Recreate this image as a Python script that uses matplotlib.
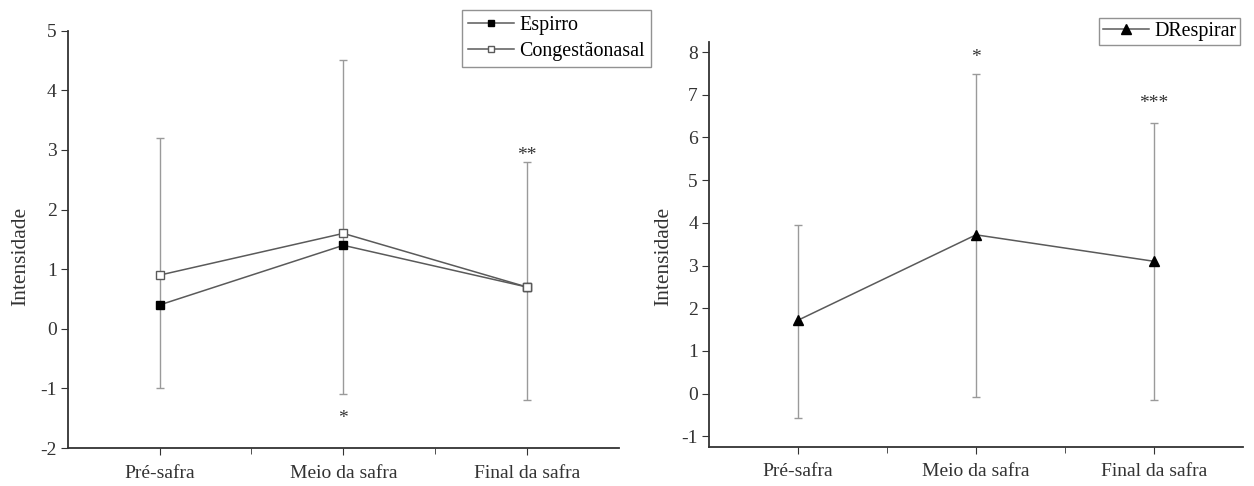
import matplotlib
matplotlib.use("Agg")
import matplotlib.pyplot as plt
import numpy as np

plt.rcParams['font.family'] = ['Liberation Serif', 'DejaVu Serif']
plt.rcParams['axes.unicode_minus'] = False

categories = ["Pré-safra", "Meio da safra", "Final da safra"]

# Left panel
espirro = [0.4, 1.4, 0.7]
congestao = [0.9, 1.6, 0.7]
left_err_low = [-1.0, -1.1, -1.2]
left_err_high = [3.2, 4.5, 2.8]
left_marks = ["", "*", "**"]
left_mark_y = [None, -1.5, 2.9]

# Right panel
drespirar = [1.72, 3.72, 3.1]
right_err_low = [-0.57, -0.08, -0.15]
right_err_high = [3.95, 7.48, 6.35]
right_marks = ["", "*", "***"]
right_mark_y = [None, 7.87, 6.8]

line_c = "#5a5a5a"
err_c = "#9a9a9a"
axis_c = "#333333"
text_c = "#333333"

fig = plt.figure(figsize=(12.54, 4.86), dpi=100)
ax1 = fig.add_axes([0.054, 0.078, 0.4396, 0.859])
ax2 = fig.add_axes([0.5654, 0.081, 0.4258, 0.833])

x = np.arange(1, 4)

def style(ax, label_x, label_y):
    for s in ["top", "right"]:
        ax.spines[s].set_visible(False)
    for s in ["left", "bottom"]:
        ax.spines[s].set_color(axis_c)
        ax.spines[s].set_linewidth(1.3)
    ax.set_xlim(0.5, 3.5)
    ax.set_xticks(x)
    ax.set_xticklabels(categories)
    ax.set_xticks([1.5, 2.5], minor=True)
    ax.tick_params(axis="both", which="major", direction="out", length=5,
                   colors=axis_c, labelsize=14, labelcolor=text_c)
    ax.tick_params(axis="x", which="minor", direction="out", length=4, colors=axis_c)
    ax.tick_params(axis="x", which="major", pad=7)
    ax.tick_params(axis="y", which="major", pad=3)
    ax.set_ylabel("Intensidade", fontsize=15.5, color=text_c, va="center")
    ax.yaxis.set_label_coords(label_x, label_y)

def errs(ax, means, lo, hi):
    lower = [m - l for m, l in zip(means, lo)]
    upper = [h - m for m, h in zip(means, hi)]
    ax.errorbar(x, means, yerr=[lower, upper], fmt="none", ecolor=err_c,
                elinewidth=1.0, capsize=3, capthick=1.0, zorder=1)

# Left
style(ax1, -0.086, 0.46)
errs(ax1, congestao, left_err_low, left_err_high)
ax1.plot(x, espirro, color=line_c, lw=1.1, marker="s", ms=5.5,
         mfc="black", mec="black", label="Espirro", zorder=3)
ax1.plot(x, congestao, color=line_c, lw=1.1, marker="s", ms=5.5,
         mfc="white", mec=line_c, label="Congestãonasal", zorder=4)
ax1.set_ylim(-2, 5)
ax1.set_yticks(range(-2, 6))
for xi, m, my in zip(x, left_marks, left_mark_y):
    if m:
        ax1.text(xi, my, m, ha="center", va="center", fontsize=14, color=text_c)
fig.legend(*ax1.get_legend_handles_labels(), loc="upper right",
           bbox_to_anchor=(0.519, 0.979), frameon=True, fancybox=False,
           edgecolor="#777777", fontsize=14.4, handlelength=2.3, markerscale=0.9,
           borderpad=0.3, labelspacing=0.35, handletextpad=0.25, borderaxespad=0)

# Right
style(ax2, -0.085, 0.47)
errs(ax2, drespirar, right_err_low, right_err_high)
ax2.plot(x, drespirar, color=line_c, lw=1.1, marker="^", ms=7.5,
         mfc="black", mec="black", label="DRespirar", zorder=3)
ax2.set_ylim(-1.24, 8.24)
ax2.set_yticks(range(-1, 9))
for xi, m, my in zip(x, right_marks, right_mark_y):
    if m:
        ax2.text(xi, my, m, ha="center", va="center", fontsize=14, color=text_c)
fig.legend(*ax2.get_legend_handles_labels(), loc="upper right",
           bbox_to_anchor=(0.989, 0.963), frameon=True, fancybox=False,
           edgecolor="#777777", fontsize=14.4, handlelength=2.3,
           borderpad=0.2, handletextpad=0.25, borderaxespad=0)

fig.savefig("out.png", dpi=100, facecolor="white")
